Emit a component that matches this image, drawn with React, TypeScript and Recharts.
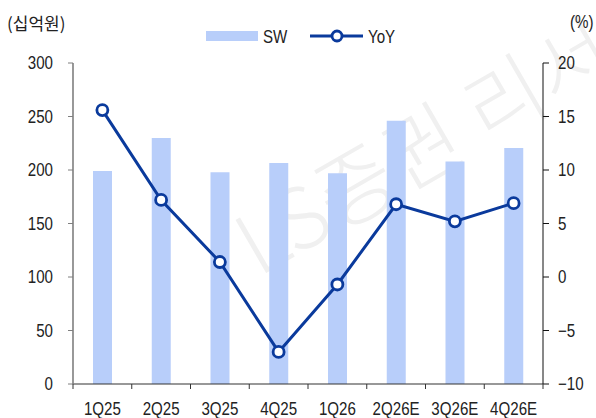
import {
  ComposedChart,
  Bar,
  Line,
  XAxis,
  YAxis,
  Legend,
} from "recharts";

// 분기 라벨
const QUARTERS = ["1Q25", "2Q25", "3Q25", "4Q25", "1Q26", "2Q26E", "3Q26E", "4Q26E"];
// SW 매출 (십억원)
const SW = [199, 230, 198, 206.5, 197, 246, 208, 220.5];
// YoY (%)
const YOY = [15.6, 7.2, 1.4, -7.0, -0.7, 6.8, 5.2, 6.9];

const LEFT_TICKS = [0, 50, 100, 150, 200, 250, 300];
const RIGHT_TICKS = [-10, -5, 0, 5, 10, 15, 20];

const BAR_COLOR = "#b8cefa";
const LINE_COLOR = "#0a3a9c";
const FONT = "'Liberation Sans', Arial, sans-serif";
const FS = 18;
const NARROW = 0.84; // 좁은 글꼴 흉내 (가로 압축)

const data = QUARTERS.map((q, i) => ({ q, sw: SW[i], yoy: YOY[i] }));

// 음수는 유니코드 마이너스로 표기
const fmtPct = (v: number) => (v < 0 ? `\u2212${-v}` : `${v}`);

function NarrowText({ x, y, anchor, children }: any) {
  return (
    <text
      transform={`translate(${x},${y}) scale(${NARROW},1)`}
      textAnchor={anchor}
      fontSize={FS}
      fill="#222"
      fontFamily={FONT}
    >
      {children}
    </text>
  );
}

// X축 라벨 + 카테고리 경계 눈금
function QuarterTick(props: any) {
  const { x, y, payload, index, width } = props;
  const half = width / QUARTERS.length / 2;
  return (
    <g>
      <line x1={x - half} y1={y} x2={x - half} y2={y + 5} stroke="#333" />
      {index === QUARTERS.length - 1 && (
        <line x1={x + half} y1={y} x2={x + half} y2={y + 5} stroke="#333" />
      )}
      <NarrowText x={x} y={y + 31} anchor="middle">
        {payload.value}
      </NarrowText>
    </g>
  );
}

function LeftTick(props: any) {
  const { x, y, payload } = props;
  return (
    <NarrowText x={x} y={y + 6.4} anchor="end">
      {payload.value}
    </NarrowText>
  );
}

function RightTick(props: any) {
  const { x, y, payload } = props;
  return (
    <NarrowText x={x} y={y + 6.4} anchor="start">
      {fmtPct(payload.value)}
    </NarrowText>
  );
}

function renderLegend() {
  return (
    <svg width={200} height={22}>
      <rect x={0} y={5} width={52} height={10} fill={BAR_COLOR} />
      <NarrowText x={57} y={16.5} anchor="start">SW</NarrowText>
      <line x1={104} y1={10} x2={157} y2={10} stroke={LINE_COLOR} strokeWidth={3} />
      <circle cx={131} cy={10} r={5} fill="#fff" stroke={LINE_COLOR} strokeWidth={2.8} />
      <NarrowText x={162} y={16.5} anchor="start">YoY</NarrowText>
    </svg>
  );
}

export default function App() {
  return (
    <div
      style={{
        position: "absolute",
        left: 0,
        top: 0,
        width: 596,
        height: 418,
        background: "#fff",
        fontFamily: FONT,
        overflow: "hidden",
      }}
    >
      {/* 워터마크 */}
      <div
        style={{
          position: "absolute",
          left: 455,
          top: 122,
          transform: "translate(-50%, -50%) rotate(-30deg)",
          fontSize: 84,
          color: "#f0f0f0",
          whiteSpace: "nowrap",
          fontFamily: "'Noto Sans CJK KR', sans-serif",
          fontWeight: 300,
        }}
      >
        LS증권 리서치
      </div>
      <div
        style={{
          position: "absolute",
          left: 7,
          top: 13,
          fontSize: 17,
          color: "#222",
          fontFamily: "'Noto Sans CJK KR', sans-serif",
          lineHeight: 1.2,
        }}
      >
        (십억원)
      </div>
      <div
        style={{
          position: "absolute",
          left: 570,
          top: 12,
          fontSize: FS,
          color: "#222",
          lineHeight: 1.2,
          transform: `scale(${NARROW},1)`,
          transformOrigin: "left center",
        }}
      >
        (%)
      </div>
      <div style={{ position: "absolute", left: 0, top: 0 }}>
        <ComposedChart width={596} height={418} data={data} margin={{ top: 63, right: 0, bottom: 0, left: 0 }}>
          <XAxis
            dataKey="q"
            height={34}
            tickSize={0}
            tickMargin={0}
            tickLine={false}
            axisLine={{ stroke: "#333", strokeWidth: 1.2 }}
            tick={<QuarterTick />}
            interval={0}
          />
          <YAxis
            yAxisId="left"
            width={73}
            domain={[0, 300]}
            ticks={LEFT_TICKS}
            tickSize={5}
            tickMargin={15}
            axisLine={{ stroke: "#7f7f7f", strokeWidth: 1.6 }}
            tickLine={{ stroke: "#7f7f7f" }}
            tick={<LeftTick />}
          />
          <YAxis
            yAxisId="right"
            orientation="right"
            width={53}
            domain={[-10, 20]}
            ticks={RIGHT_TICKS}
            tickSize={6}
            tickMargin={9}
            axisLine={{ stroke: "#111" }}
            tickLine={{ stroke: "#111" }}
            tick={<RightTick />}
          />
          <Legend
            layout="horizontal"
            verticalAlign="middle"
            align="center"
            content={renderLegend}
            wrapperStyle={{ left: 206, top: 26, width: "auto" }}
          />
          <Bar yAxisId="left" dataKey="sw" name="SW" fill={BAR_COLOR} barSize={19} isAnimationActive={false} />
          <Line
            yAxisId="right"
            dataKey="yoy"
            name="YoY"
            type="linear"
            stroke={LINE_COLOR}
            strokeWidth={3}
            dot={{ r: 5.5, fill: "#fff", stroke: LINE_COLOR, strokeWidth: 2.8 }}
            isAnimationActive={false}
          />
        </ComposedChart>
      </div>
    </div>
  );
}
